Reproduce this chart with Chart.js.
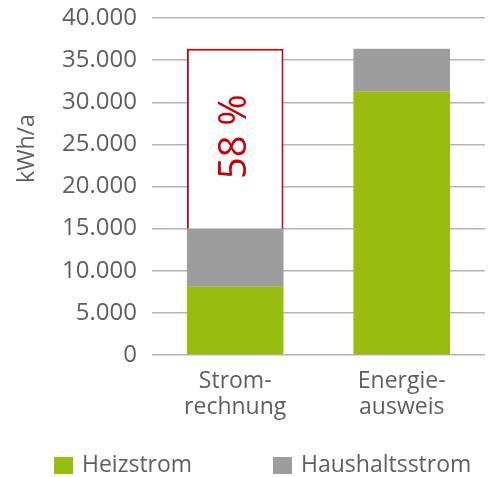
<!DOCTYPE html>
<html>
<head>
<meta charset="utf-8">
<script src="https://cdn.jsdelivr.net/npm/chart.js@4.4.1/dist/chart.umd.min.js"></script>
<style>
  html, body { margin: 0; padding: 0; background: #fff; }
  #wrap { width: 489px; height: 477px; }
</style>
</head>
<body>
<div id="wrap"><canvas id="stromChart"></canvas></div>
<script>
// Data
const categories = [['Strom-', 'rechnung'], ['Energie-', 'ausweis']];
const heizstrom = [8100, 31300];
const haushaltsstrom = [6900, 5050];
const differenz = [21350, 0];
const differenzLabel = '58 %';
const yTicks = [0, 5000, 10000, 15000, 20000, 25000, 30000, 35000, 40000];
const yTitle = 'kWh/a';

const textColor = '#5f5f5f';
const green = '#97bd10';
const grey = '#9d9d9d';
const red = '#c8000a';

// draws the percent label, the axis title and the legend
const extras = {
    id: 'extras',
    afterDatasetsDraw(chart) {
        const ctx = chart.ctx;
        const bar = chart.getDatasetMeta(2).data[0];
        ctx.save();
        ctx.translate(bar.x, (bar.y + bar.base) / 2 - 2);
        ctx.rotate(-Math.PI / 2);
        ctx.fillStyle = red;
        ctx.font = '38px "Open Sans"';
        ctx.textAlign = 'center';
        ctx.textBaseline = 'middle';
        ctx.fillText(differenzLabel, 0, 0);
        ctx.restore();
    },
    afterDraw(chart) {
        const ctx = chart.ctx;
        const y = chart.scales.y;

        // y axis title
        ctx.save();
        ctx.translate(27, y.getPixelForValue(24500));
        ctx.rotate(-Math.PI / 2);
        ctx.fillStyle = textColor;
        ctx.font = '23px "Open Sans"';
        ctx.textAlign = 'center';
        ctx.textBaseline = 'middle';
        ctx.fillText(yTitle, 0, 0);
        ctx.restore();

        // legend
        const items = [
            { ds: chart.data.datasets[0], x: 54 },
            { ds: chart.data.datasets[1], x: 273 }
        ];
        ctx.save();
        ctx.font = '23px "Open Sans"';
        ctx.textBaseline = 'middle';
        items.forEach(function(it) {
            ctx.fillStyle = it.ds.backgroundColor;
            ctx.fillRect(it.x, 457, 19, 17);
            ctx.fillStyle = textColor;
            ctx.fillText(it.ds.label, it.x + 28, 465);
        });
        ctx.restore();
    }
};

const ctx = document.getElementById('stromChart').getContext('2d');
const chart = new Chart(ctx, {
    type: 'bar',
    data: {
        labels: categories,
        datasets: [
            { label: 'Heizstrom', data: heizstrom, backgroundColor: green },
            { label: 'Haushaltsstrom', data: haushaltsstrom, backgroundColor: grey },
            { label: 'Differenz', data: differenz, backgroundColor: '#ffffff',
              borderColor: red, borderWidth: 2 }
        ]
    },
    options: {
        responsive: true,
        maintainAspectRatio: false,
        animation: false,
        events: [],
        layout: { padding: { left: 47, right: 4, top: 18, bottom: 52 } },
        datasets: { bar: { categoryPercentage: 1, barPercentage: 0.58 } },
        plugins: {
            legend: { display: false },
            tooltip: { enabled: false }
        },
        scales: {
            x: {
                stacked: true,
                grid: { display: false },
                border: { display: false },
                ticks: {
                    color: textColor,
                    padding: 5,
                    font: { family: 'Open Sans', size: 23, lineHeight: 1.13 }
                }
            },
            y: {
                stacked: true,
                min: 0,
                max: 40000,
                afterBuildTicks(scale) {
                    scale.ticks = yTicks.map(v => ({ value: v }));
                },
                afterFit(scale) {
                    scale.paddingTop = 0;
                    scale.paddingBottom = 0;
                },
                grid: { color: '#b4b4b4', lineWidth: 1.5, drawTicks: false },
                border: { display: false },
                ticks: {
                    color: textColor,
                    padding: 15,
                    font: { family: 'Open Sans', size: 24 },
                    callback: v => v.toLocaleString('de-DE')
                }
            }
        }
    },
    plugins: [extras]
});
</script>
</body>
</html>
